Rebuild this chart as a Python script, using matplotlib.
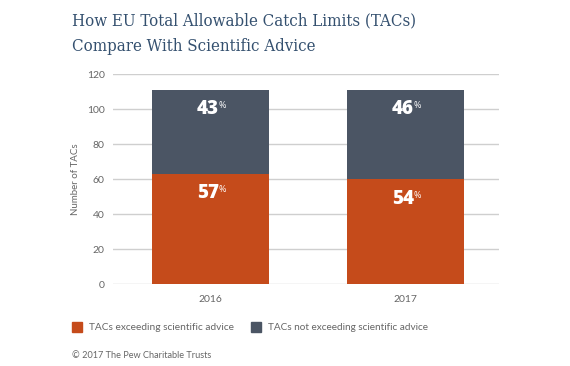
import matplotlib
matplotlib.use("Agg")
import matplotlib.pyplot as plt
from matplotlib.patches import Rectangle

years = ["2016", "2017"]
exceeding = [63, 60]
not_exceeding = [48, 51]
pct_exceeding = ["57", "54"]
pct_not = ["43", "46"]
yticks = [0, 20, 40, 60, 80, 100, 120]

ORANGE = "#C54B1B"
SLATE = "#4B5564"
TITLE_C = "#34506F"
GRAY = "#666666"

W, H = 570, 366
fig = plt.figure(figsize=(W / 100, H / 100), dpi=100)
ax = fig.add_axes([113 / W, 1 - 284.3 / H, (499 - 113) / W, (284.3 - 74) / H])

x = list(range(len(years)))
ax.bar(x, exceeding, width=0.6, color=ORANGE, zorder=3)
ax.bar(x, not_exceeding, bottom=exceeding, width=0.6, color=SLATE, zorder=3)

ax.set_xlim(-0.5, 1.48)
ax.set_ylim(0, 120)
ax.set_yticks(yticks)
ax.set_xticks(x)
ax.set_xticklabels(years)
ax.tick_params(axis="both", length=0, colors=GRAY, labelsize=7.5)
ax.tick_params(axis="y", pad=6)
ax.tick_params(axis="x", pad=8)
for lab in ax.get_xticklabels() + ax.get_yticklabels():
    lab.set_family("Lato")
ax.grid(axis="y", color="#cfcfcf", linewidth=1, zorder=0)
for s in ax.spines.values():
    s.set_visible(False)
ax.set_ylabel("Number of TACs", fontsize=7, color=GRAY, family="Lato", labelpad=5)

def pct_label(xi, ytop, txt):
    ax.annotate(txt, (xi, ytop), xytext=(6, -14), textcoords="offset points",
                ha="right", va="center", color="white", fontsize=13.5,
                fontweight=800, family="Open Sans", zorder=5)
    ax.annotate("%", (xi, ytop), xytext=(5.6, -11.5), textcoords="offset points",
                ha="left", va="center", color="white", fontsize=6.5,
                family="Open Sans", zorder=5)

for i in x:
    pct_label(i, exceeding[i], pct_exceeding[i])
    pct_label(i, exceeding[i] + not_exceeding[i], pct_not[i])

title_kw = dict(fontsize=12.1, color=TITLE_C, family="DejaVu Serif",
                fontstretch="condensed", ha="left", va="baseline")
fig.text(72 / W, 1 - 25.7 / H, "How EU Total Allowable Catch Limits (TACs)", **title_kw)
fig.text(72 / W, 1 - 50.7 / H, "Compare With Scientific Advice", **title_kw)

# legend
fig.patches.append(Rectangle((72 / W, 1 - 332 / H), 10 / W, 10 / H, color=ORANGE,
                             transform=fig.transFigure, figure=fig))
fig.text(89 / W, 1 - 327 / H, "TACs exceeding scientific advice", fontsize=7.3,
         color=GRAY, family="Lato", ha="left", va="center")
fig.patches.append(Rectangle((251 / W, 1 - 332 / H), 10 / W, 10 / H, color=SLATE,
                             transform=fig.transFigure, figure=fig))
fig.text(268 / W, 1 - 327 / H, "TACs not exceeding scientific advice", fontsize=7.2,
         color=GRAY, family="Lato", ha="left", va="center")

fig.text(72 / W, 1 - 356 / H, "© 2017 The Pew Charitable Trusts", fontsize=6.6,
         color=GRAY, family="Lato", ha="left", va="center")

fig.savefig("out.png", dpi=100)
